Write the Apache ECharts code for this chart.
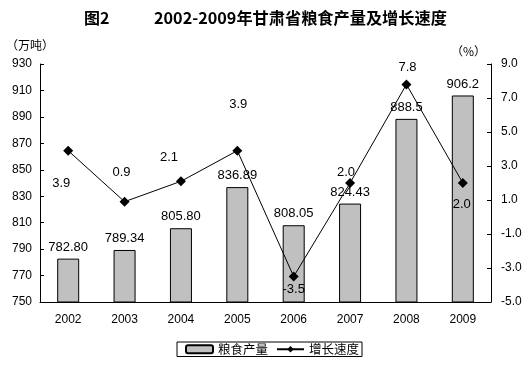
<!DOCTYPE html>
<html><head><meta charset="utf-8">
<script src="https://cdn.jsdelivr.net/npm/echarts@6/dist/echarts.min.js"></script>
<style>html,body{margin:0;padding:0;background:#fff}#c{width:530px;height:368px}</style>
</head><body><div id="c"></div>
<script>
const years = ['2002','2003','2004','2005','2006','2007','2008','2009'];
const output = [782.80, 789.34, 805.80, 836.89, 808.05, 824.43, 888.5, 906.2];
const outputLabels = ['782.80','789.34','805.80','836.89','808.05','824.43','888.5','906.2'];
const growth = [3.9, 0.9, 2.1, 3.9, -3.5, 2.0, 7.8, 2.0];
const growthLabelPos = ['bottom','top','top','top','bottom','top','top','bottom'];
const growthLabelOffset = [[-7,16],[-3,-13],[-12,-7],[1,-30],[0,-4],[-4,6],[1,0],[-1,5]];

const numFont = 'Liberation Sans, Arial, sans-serif';
const cjkFont = 'Noto Sans CJK SC, sans-serif';
const chart = echarts.init(document.getElementById('c'));
chart.setOption({
  animation: false,
  backgroundColor: '#fff',
  title: [
    {text: '图2', left: 79, top: 5, textStyle: {fontFamily: cjkFont, fontWeight: 'bold', fontSize: 16, color: '#000'}},
    {text: '2002-2009年甘肃省粮食产量及增长速度', left: 149, top: 5, textStyle: {fontFamily: cjkFont, fontWeight: 'bold', fontSize: 16.2, color: '#000'}}
  ],
  graphic: [
    {type: 'text', left: 6, top: 39, style: {text: '（万吨）', font: '12px ' + cjkFont, fill: '#000'}},
    {type: 'text', left: 451, top: 45, style: {text: '（%）', font: '12px ' + cjkFont, fill: '#000'}}
  ],
  legend: {
    left: 177, top: 342,
    padding: [1, 3, 1, 8],
    itemGap: 8,
    borderColor: '#000', borderWidth: 1, borderRadius: 0,
    itemWidth: 27, itemHeight: 8,
    textStyle: {fontFamily: cjkFont, fontSize: 12.5, color: '#000'},
    data: [
      {name: '粮食产量'},
      {name: '增长速度'}
    ]
  },
  grid: {left: 40, right: 39, top: 64, bottom: 66},
  xAxis: {
    type: 'category', data: years,
    axisLine: {onZero: false, lineStyle: {color: '#000', width: 1}},
    axisTick: {inside: true, length: 4, lineStyle: {color: '#000'}},
    axisLabel: {color: '#000', fontFamily: numFont, fontSize: 12, margin: 12}
  },
  yAxis: [
    {type: 'value', min: 750, max: 930, interval: 20,
     axisLine: {show: true, lineStyle: {color: '#000'}},
     axisTick: {show: true, inside: true, length: 4, lineStyle: {color: '#000'}},
     splitLine: {show: false},
     axisLabel: {color: '#000', fontFamily: numFont, fontSize: 12, margin: 8}},
    {type: 'value', min: -5, max: 9, interval: 2,
     axisLine: {show: true, lineStyle: {color: '#000'}},
     axisTick: {show: true, inside: true, length: 4, lineStyle: {color: '#000'}},
     splitLine: {show: false},
     axisLabel: {color: '#000', fontFamily: numFont, fontSize: 12, margin: 10, formatter: v => v.toFixed(1)}}
  ],
  series: [
    {name: '粮食产量', type: 'bar', yAxisIndex: 0, barWidth: 22,
     itemStyle: {color: '#C0C0C0', borderColor: '#000', borderWidth: 1},
     label: {show: true, position: 'top', distance: 5, color: '#000', fontFamily: numFont, fontSize: 13,
             formatter: p => outputLabels[p.dataIndex]},
     data: output},
    {name: '增长速度', type: 'line', yAxisIndex: 1, symbol: 'diamond', symbolSize: 10,
     lineStyle: {color: '#000', width: 1}, itemStyle: {color: '#000'},
     data: growth.map((v, i) => ({value: v, label: {show: true, position: growthLabelPos[i], offset: growthLabelOffset[i], distance: 5,
        color: '#000', fontFamily: numFont, fontSize: 13, formatter: p => p.value.toFixed(1)}}))}
  ]
});
</script></body></html>
